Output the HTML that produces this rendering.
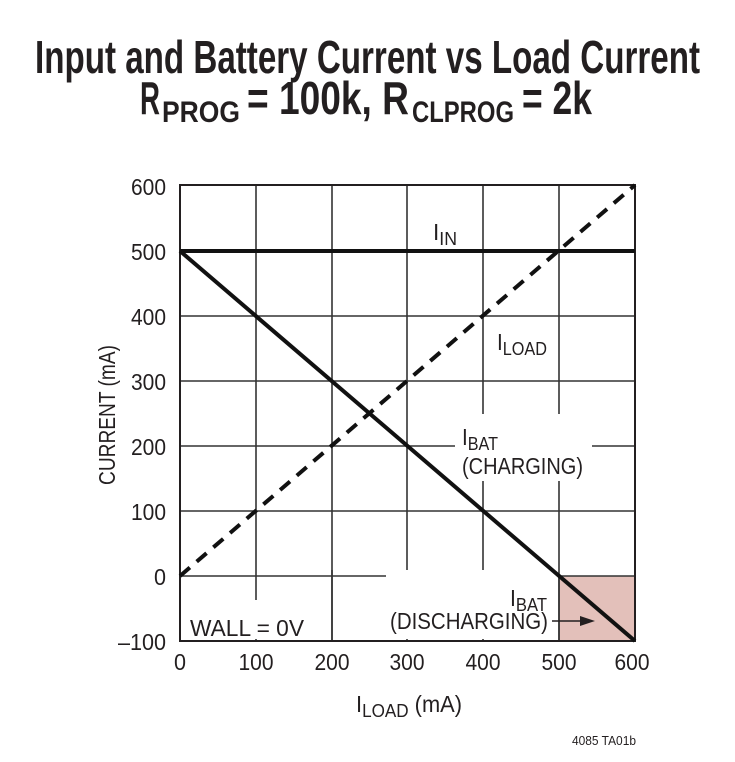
<!DOCTYPE html>
<html><head><meta charset="utf-8"><style>
html,body{margin:0;padding:0;background:#fff;}
svg{display:block;}
text{font-family:"Liberation Sans Narrow","Liberation Sans",sans-serif;fill:#231f20;}
.t{font-weight:bold;}
</style></head><body>
<svg width="735" height="762" viewBox="0 0 735 762" xmlns="http://www.w3.org/2000/svg">
<!-- title -->
<text class="t" x="35" y="73" font-size="46" textLength="665" lengthAdjust="spacingAndGlyphs">Input and Battery Current vs Load Current</text>
<text class="t" x="140" y="114" font-size="46" textLength="20" lengthAdjust="spacingAndGlyphs">R</text>
<text class="t" x="162" y="122" font-size="30" textLength="78" lengthAdjust="spacingAndGlyphs">PROG</text>
<text class="t" x="247" y="114" font-size="46" textLength="162" lengthAdjust="spacingAndGlyphs">= 100k, R</text>
<text class="t" x="412" y="122" font-size="30" textLength="102" lengthAdjust="spacingAndGlyphs">CLPROG</text>
<text class="t" x="522" y="114" font-size="46" textLength="70" lengthAdjust="spacingAndGlyphs">= 2k</text>

<rect x="559" y="576" width="76" height="65" fill="#e3c0ba"/>

<g stroke="#333" stroke-width="1.6">
<line x1="256" y1="185" x2="256" y2="641"/>
<line x1="332" y1="185" x2="332" y2="641"/>
<line x1="407" y1="185" x2="407" y2="641"/>
<line x1="483" y1="185" x2="483" y2="641"/>
<line x1="559" y1="185" x2="559" y2="641"/>
<line x1="180" y1="316" x2="635" y2="316"/>
<line x1="180" y1="381" x2="635" y2="381"/>
<line x1="180" y1="446" x2="635" y2="446"/>
<line x1="180" y1="511" x2="635" y2="511"/>
<line x1="180" y1="576" x2="635" y2="576"/>
</g>
<rect x="455" y="414" width="137" height="67" fill="#fff"/>
<rect x="186" y="600" width="122" height="39" fill="#fff"/>
<rect x="386" y="570" width="172" height="69" fill="#fff"/>
<line x1="559" y1="576" x2="559" y2="641" stroke="#333" stroke-width="1.6"/>
<line x1="332" y1="570" x2="332" y2="641" stroke="#333" stroke-width="1.6"/>
<rect x="180" y="185" width="455" height="456" fill="none" stroke="#231f20" stroke-width="2"/>

<line x1="180" y1="251" x2="635" y2="251" stroke="#111" stroke-width="4"/>
<line x1="180" y1="251" x2="635" y2="641" stroke="#111" stroke-width="4"/>
<line x1="180" y1="576" x2="635" y2="185" stroke="#111" stroke-width="4" stroke-dasharray="13,9"/>

<g font-size="23" text-anchor="end" lengthAdjust="spacingAndGlyphs">
<text x="166" y="195" textLength="35" lengthAdjust="spacingAndGlyphs">600</text>
<text x="166" y="260" textLength="35" lengthAdjust="spacingAndGlyphs">500</text>
<text x="166" y="325" textLength="35" lengthAdjust="spacingAndGlyphs">400</text>
<text x="166" y="390" textLength="35" lengthAdjust="spacingAndGlyphs">300</text>
<text x="166" y="455" textLength="35" lengthAdjust="spacingAndGlyphs">200</text>
<text x="166" y="520" textLength="35" lengthAdjust="spacingAndGlyphs">100</text>
<text x="166" y="585" textLength="12" lengthAdjust="spacingAndGlyphs">0</text>
<text x="166" y="650" textLength="48" lengthAdjust="spacingAndGlyphs">–100</text>
</g>
<g font-size="23" text-anchor="middle">
<text x="180" y="670" textLength="12" lengthAdjust="spacingAndGlyphs">0</text>
<text x="256" y="670" textLength="35" lengthAdjust="spacingAndGlyphs">100</text>
<text x="332" y="670" textLength="35" lengthAdjust="spacingAndGlyphs">200</text>
<text x="407" y="670" textLength="35" lengthAdjust="spacingAndGlyphs">300</text>
<text x="483" y="670" textLength="35" lengthAdjust="spacingAndGlyphs">400</text>
<text x="559" y="670" textLength="35" lengthAdjust="spacingAndGlyphs">500</text>
<text x="632" y="670" textLength="35" lengthAdjust="spacingAndGlyphs">600</text>
</g>
<text x="115" y="415" font-size="23" text-anchor="middle" textLength="140" lengthAdjust="spacingAndGlyphs" transform="rotate(-90 115 415)">CURRENT (mA)</text>
<text x="356" y="712" font-size="23" textLength="106" lengthAdjust="spacingAndGlyphs">I<tspan font-size="18" dy="5">LOAD</tspan><tspan dy="-5"> (mA)</tspan></text>

<text x="433" y="240" font-size="23" textLength="24" lengthAdjust="spacingAndGlyphs">I<tspan font-size="18" dy="5">IN</tspan></text>
<text x="497" y="350" font-size="23" textLength="50" lengthAdjust="spacingAndGlyphs">I<tspan font-size="18" dy="5">LOAD</tspan></text>
<text x="462" y="445" font-size="23" textLength="36" lengthAdjust="spacingAndGlyphs">I<tspan font-size="18" dy="5">BAT</tspan></text>
<text x="462" y="474" font-size="23" textLength="121" lengthAdjust="spacingAndGlyphs">(CHARGING)</text>
<text x="510" y="606" font-size="23" textLength="37" lengthAdjust="spacingAndGlyphs">I<tspan font-size="18" dy="5">BAT</tspan></text>
<text x="390" y="629" font-size="23" textLength="158" lengthAdjust="spacingAndGlyphs">(DISCHARGING)</text>
<line x1="552" y1="621" x2="588" y2="621" stroke="#231f20" stroke-width="1.5"/>
<polygon points="595,621 580,616 580,626" fill="#231f20"/>
<text x="190" y="636" font-size="23" textLength="114" lengthAdjust="spacingAndGlyphs">WALL = 0V</text>

<text x="572" y="745" font-size="13" textLength="64" lengthAdjust="spacingAndGlyphs">4085 TA01b</text>
</svg>
</body></html>
